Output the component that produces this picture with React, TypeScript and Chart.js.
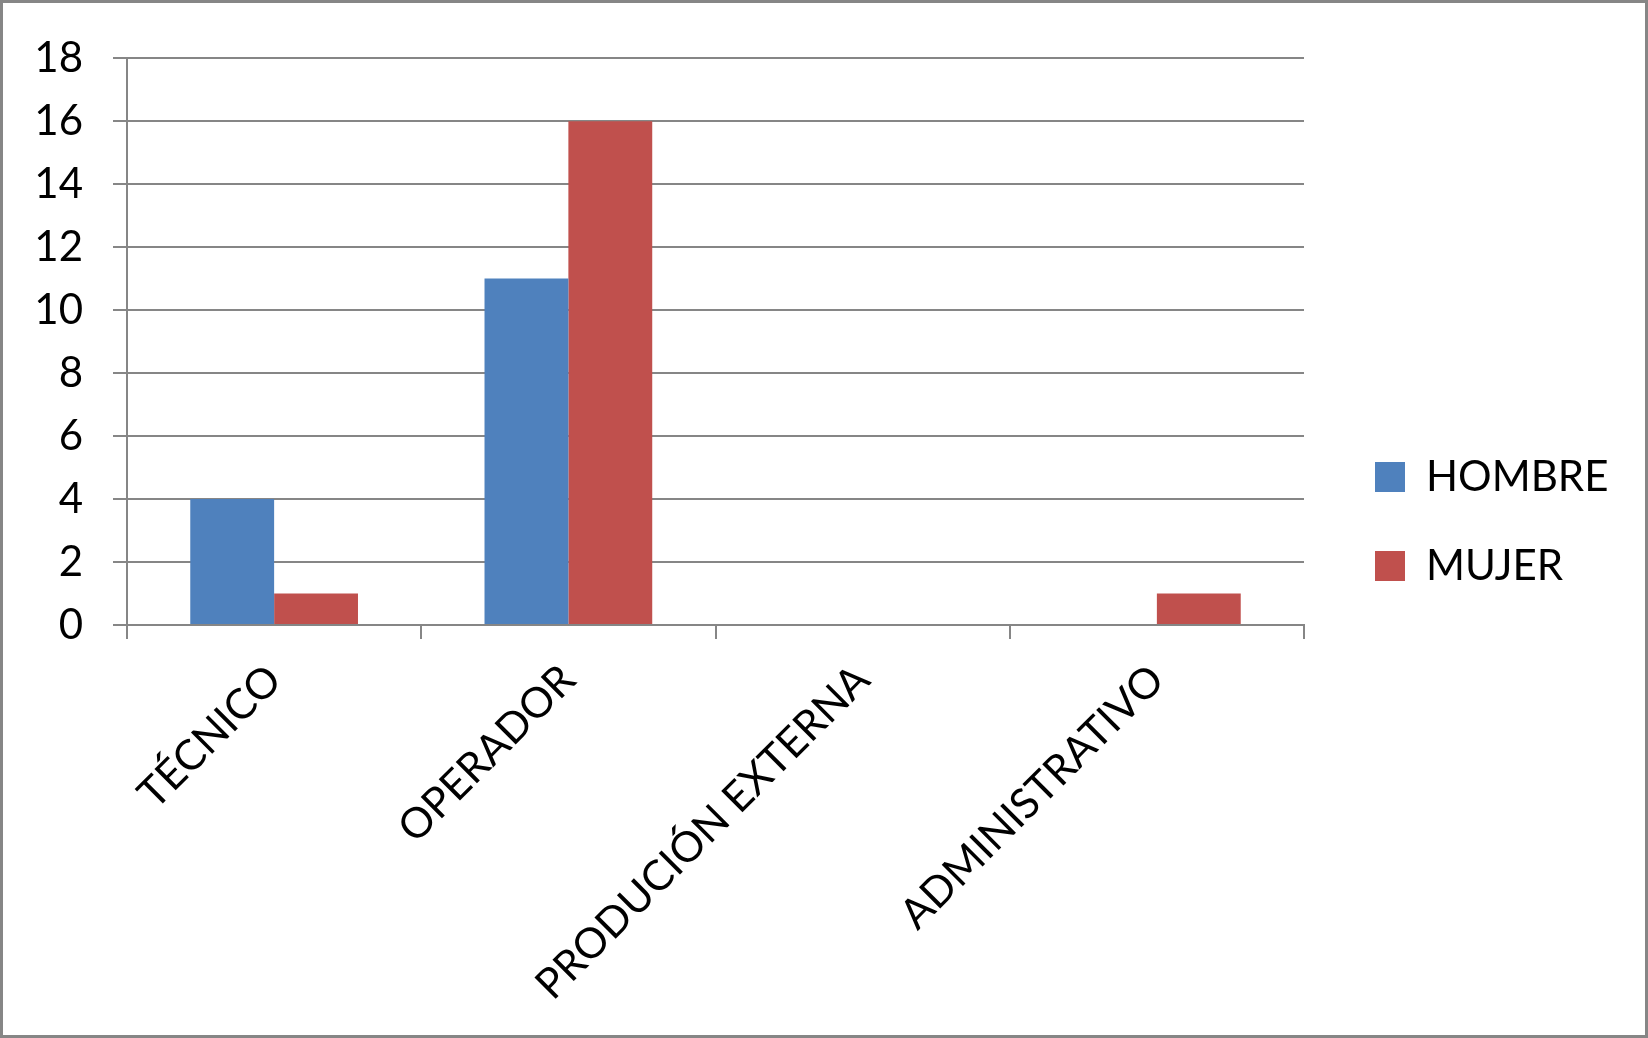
import React, { useEffect, useRef } from 'react'
import { Chart, registerables } from 'chart.js'

Chart.register(...registerables)

// ---------------------------------------------------------------------------
// data
// ---------------------------------------------------------------------------

const categories = ['TÉCNICO', 'OPERADOR', 'PRODUCIÓN EXTERNA', 'ADMINISTRATIVO']
const seriesNames = ['HOMBRE', 'MUJER']
const hombreValues = [4, 11, 0, 0]
const mujerValues = [1, 16, 0, 1]
const yMin = 0
const yMax = 18
const yStep = 2

const BLUE = '#4F81BD'
const RED = '#C0504D'
const GRID = '#868686'
const FONT = '"Lato", "Open Sans", sans-serif'
const FONT_SIZE = 42

const CANVAS_W = 1642
const CANVAS_H = 1032

// plot box inside the canvas
const PLOT_RIGHT = 1301
const LEGEND_LEFT = 1325

const App: React.FC = () => {
  const canvasRef = useRef<HTMLCanvasElement>(null)
  const chartRef = useRef<Chart | null>(null)

  useEffect(() => {
    if (!canvasRef.current) return
    if (chartRef.current) chartRef.current.destroy()

    // measure the legend text so the legend lands where we want it
    const ctx = canvasRef.current.getContext('2d')!
    ctx.font = `${FONT_SIZE}px ${FONT}`
    const textW = Math.max(...seriesNames.map((s) => ctx.measureText(s).width))
    const legendPad = 47
    const boxSize = 30
    const legendW = legendPad + boxSize + FONT_SIZE / 2 + textW + 10
    const rightPad = Math.max(CANVAS_W - LEGEND_LEFT - legendW, 0)

    chartRef.current = new Chart(canvasRef.current, {
      type: 'bar',
      data: {
        labels: categories,
        datasets: [
          {
            label: seriesNames[0],
            data: hombreValues,
            backgroundColor: BLUE,
            borderWidth: 0,
            categoryPercentage: 0.57,
            barPercentage: 1,
          },
          {
            label: seriesNames[1],
            data: mujerValues,
            backgroundColor: RED,
            borderWidth: 0,
            categoryPercentage: 0.57,
            barPercentage: 1,
          },
        ],
      },
      options: {
        responsive: false,
        maintainAspectRatio: false,
        animation: false,
        layout: { padding: { top: 5, left: 0, right: rightPad, bottom: 0 } },
        plugins: {
          tooltip: { enabled: false },
          legend: {
            position: 'right',
            maxWidth: 600,
            labels: {
              boxWidth: boxSize,
              boxHeight: boxSize,
              padding: legendPad,
              color: '#000',
              font: { family: FONT, size: FONT_SIZE },
            },
          },
        },
        scales: {
          x: {
            offset: true,
            grid: {
              offset: true,
              drawOnChartArea: false,
              drawTicks: true,
              tickLength: 14,
              color: GRID,
              lineWidth: 2,
            },
            border: { display: true, color: GRID, width: 2 },
            ticks: {
              color: '#000',
              font: { family: FONT, size: FONT_SIZE },
              minRotation: 45,
              maxRotation: 45,
              padding: 16,
            },
            afterFit: (scale: any) => {
              scale.height = 410
            },
          },
          y: {
            min: yMin,
            max: yMax,
            grid: { color: GRID, lineWidth: 2, tickLength: 14 },
            border: { display: true, color: GRID, width: 2 },
            ticks: {
              stepSize: yStep,
              color: '#000',
              padding: 30,
              font: { family: FONT, size: FONT_SIZE },
            },
            afterFit: (scale: any) => {
              scale.width = 124
            },
          },
          // empty band above the plot
          topSpace: {
            type: 'linear',
            position: 'top',
            display: true,
            grid: { display: false },
            border: { display: false },
            ticks: { display: false },
            afterFit: (scale: any) => {
              scale.height = 48
            },
          },
          // empty space between the plot and the legend
          rightSpace: {
            type: 'linear',
            position: 'right',
            display: true,
            grid: { display: false },
            border: { display: false },
            ticks: { display: false },
            afterFit: (scale: any) => {
              scale.width = LEGEND_LEFT - PLOT_RIGHT
            },
          },
        },
      } as any,
    })

    return () => {
      if (chartRef.current) {
        chartRef.current.destroy()
        chartRef.current = null
      }
    }
  }, [])

  return (
    <div
      style={{
        position: 'absolute',
        left: 0,
        top: 0,
        width: 1648,
        height: 1038,
        boxSizing: 'border-box',
        border: `3px solid ${GRID}`,
        background: '#fff',
      }}
    >
      <canvas
        ref={canvasRef}
        width={CANVAS_W}
        height={CANVAS_H}
        style={{ display: 'block', width: CANVAS_W, height: CANVAS_H }}
      ></canvas>
    </div>
  )
}

export default App
